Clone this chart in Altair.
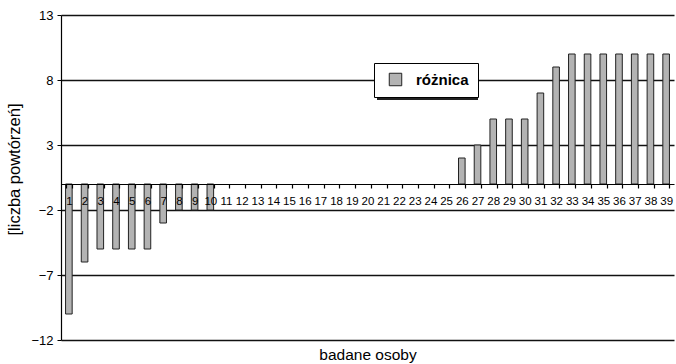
import altair as alt
import pandas as pd

# Difference in repetition counts for each examined person
persons = [str(i) for i in range(1, 40)]
differences = [-10, -6, -5, -5, -5, -5, -3, -2, -2, -2,
               0, 0, 0, 0, 0, 0, 0, 0, 0, 0, 0, 0, 0, 0, 0,
               2, 3, 5, 5, 5, 7, 9, 10, 10, 10, 10, 10, 10, 10]
series_name = "różnica"
y_ticks = [-12, -7, -2, 3, 8, 13]

df = pd.DataFrame({
    "osoba": persons,
    "roznica": differences,
    "seria": [series_name] * len(persons),
})

FONT = "Liberation Sans, Arial, sans-serif"
PLOT_W, PLOT_H = 613, 325
Y_MIN, Y_MAX = -12, 13
zero_offset = -PLOT_H * (0 - Y_MIN) / (Y_MAX - Y_MIN)  # category axis sits on y = 0

LEG_X, LEG_Y, LEG_W, LEG_H = 313, 48, 101, 34
SHADOW = 3

x_scale = alt.Scale(paddingInner=0.58, paddingOuter=0.29)
y_scale = alt.Scale(domain=[Y_MIN, Y_MAX], nice=False, zero=False)

base = alt.Chart(df)

bars = base.mark_bar(stroke="#222222", strokeWidth=1).encode(
    x=alt.X("osoba:O", sort=persons, scale=x_scale,
            axis=alt.Axis(title=None, orient="bottom", offset=zero_offset,
                          zindex=1, ticks=True, tickBand="extent",
                          tickColor="black", tickSize=4, tickWidth=1.2,
                          domain=True, domainColor="black", domainWidth=1.2,
                          labelAngle=0, labelFont=FONT, labelFontSize=11.5,
                          labelColor="black", labelPadding=7, grid=False)),
    y=alt.Y("roznica:Q", scale=y_scale,
            axis=alt.Axis(values=y_ticks, title="[liczba powtórzeń]",
                          titleFont=FONT, titleFontSize=16.5,
                          titleFontWeight="normal", titleColor="black",
                          titlePadding=8, titleY=154,
                          labelFont=FONT, labelFontSize=13,
                          labelColor="black", labelPadding=4,
                          tickColor="black", tickSize=4, domainColor="black",
                          domainWidth=1.2,
                          grid=True, gridColor="#111111", gridWidth=1.3)),
    color=alt.Color("seria:N", scale=alt.Scale(range=["#b3b3b3"]),
                    legend=alt.Legend(title=None, orient="none",
                                      legendX=LEG_X, legendY=LEG_Y,
                                      fillColor="white", strokeColor="black",
                                      padding=9, symbolType="square",
                                      symbolSize=156, symbolOffset=5,
                                      symbolStrokeColor="#222222",
                                      symbolStrokeWidth=1,
                                      labelFont=FONT, labelFontSize=15,
                                      labelFontWeight="bold",
                                      labelExpr="datum.label + ' '",
                                      labelColor="black", labelOffset=13)),
).transform_filter(alt.datum.roznica != 0)

# Drop shadow behind the legend box
legend_shadow = alt.Chart(df).mark_rect(color="#222222").encode(
    x=alt.value(LEG_X + SHADOW), x2=alt.value(LEG_X + SHADOW + LEG_W),
    y=alt.value(LEG_Y + SHADOW), y2=alt.value(LEG_Y + SHADOW + LEG_H),
)

# Bottom title for the category axis
x_title = base.mark_bar(opacity=0).encode(
    x=alt.X("osoba:O", sort=persons, scale=x_scale,
            axis=alt.Axis(title="badane osoby", orient="bottom",
                          labels=False, ticks=False, domain=False,
                          grid=False, titleFont=FONT, titleFontSize=15.5,
                          titleFontWeight="normal", titleColor="black",
                          titlePadding=7)),
)

chart = (
    alt.layer(bars, legend_shadow, x_title)
    .resolve_axis(x="independent")
    .properties(width=PLOT_W, height=PLOT_H,
                autosize=alt.AutoSizeParams(type="none"),
                padding={"left": 61, "top": 15, "right": 2, "bottom": 24},
                background="white")
    .configure_view(strokeWidth=0)
)

chart.save("out.html", embed_options={"renderer": "svg", "actions": False})
